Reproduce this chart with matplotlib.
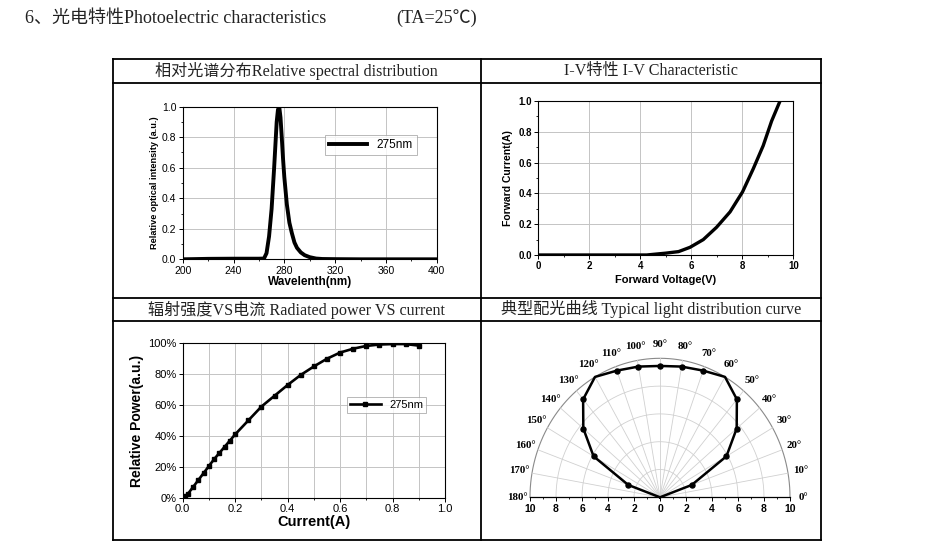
import numpy as np
import matplotlib.pyplot as plt
from matplotlib.lines import Line2D
from matplotlib.ticker import MultipleLocator, FuncFormatter

# relative spectral distribution
wavelength = [200, 220, 240, 260, 264, 266, 268, 270, 272, 274, 275, 276, 277, 278,
              279, 280, 282, 284, 286, 288, 290, 293, 296, 300, 305, 310, 320, 340,
              360, 380, 400]
intensity = [0.0, 0.003, 0.004, 0.004, 0.005, 0.04, 0.15, 0.33, 0.6, 0.9, 0.98, 1.0,
             0.93, 0.8, 0.66, 0.54, 0.36, 0.24, 0.17, 0.11, 0.075, 0.045, 0.027,
             0.014, 0.005, 0.002, 0.001, 0.0, 0.0, 0.0, 0.0]

# I-V characteristic
voltage = [0, 1, 2, 3, 4, 4.25, 5.0, 5.5, 5.95, 6.47, 6.99, 7.52, 8.01, 8.43, 8.82, 9.15, 9.48]
fwd_current = [0, 0, 0, 0, 0, 0.0, 0.012, 0.022, 0.05, 0.1, 0.18, 0.28, 0.41, 0.56, 0.71, 0.87, 1.0]

# radiated power vs current
drive_current = [0.0, 0.01, 0.02, 0.04, 0.06, 0.08, 0.1, 0.12, 0.14, 0.16, 0.18, 0.2,
                 0.25, 0.3, 0.35, 0.4, 0.45, 0.5, 0.55, 0.6, 0.65, 0.7, 0.75, 0.8,
                 0.85, 0.9]
rel_power = [0, 1, 2.5, 7, 11.5, 16, 20.5, 25, 29, 33, 37, 41, 50, 59, 66, 73, 79.5,
             85, 90, 94, 96.5, 98.3, 99.2, 99.5, 99.5, 98.5]

# light distribution (polar)
angle_deg = [0, 20, 30, 40, 50, 60, 70, 80, 90, 100, 110, 120, 130, 140, 150, 160, 180]
radius = [0, 2.6, 5.9, 7.7, 9.2, 10.0, 9.7, 9.55, 9.45, 9.55, 9.7, 10.0, 9.2, 7.7, 5.9, 2.6, 0]
dot_idx = [1, 2, 3, 4, 6, 7, 8, 9, 10, 12, 13, 14, 15]

W, H = 930, 552
serif = ['Liberation Serif', 'Noto Sans CJK SC']
sans = 'Liberation Sans'
grid_c = '#c4c4c4'

fig = plt.figure(figsize=(9.3, 5.52), dpi=100)


def box(x0, y0, x1, y1):
    return [x0 / W, 1 - y1 / H, (x1 - x0) / W, (y1 - y0) / H]


def hline(x0, x1, y):
    fig.add_artist(Line2D([x0 / W, x1 / W], [1 - y / H, 1 - y / H],
                          transform=fig.transFigure, color='black', lw=1.3))


def vline(x, y0, y1):
    fig.add_artist(Line2D([x / W, x / W], [1 - y0 / H, 1 - y1 / H],
                          transform=fig.transFigure, color='black', lw=1.3))


# page title
fig.text(25 / W, 1 - 18 / H, '6、光电特性Photoelectric characteristics', family=serif,
         fontsize=13, va='center', ha='left', color='#222222')
fig.text(396 / W, 1 - 18 / H, '(TA=25℃)', family=serif, fontsize=13, va='center', ha='left',
         color='#222222')

# table frame
L, M, R = 112.7, 480.7, 820.7
T, H1, MID, H2, B = 59, 83, 298, 321, 540
for y in [T, H1, MID, H2, B]:
    hline(L, R, y)
for x in [L, M, R]:
    vline(x, T, B)

headers = ['相对光谱分布Relative spectral distribution', 'I-V特性 I-V Characteristic',
           '辐射强度VS电流 Radiated power VS current', '典型配光曲线 Typical light distribution curve']
centers = [((L + M) / 2, (T + H1) / 2), ((M + R) / 2, (T + H1) / 2),
           ((L + M) / 2, (MID + H2) / 2), ((M + R) / 2, (MID + H2) / 2)]
for txt, (hx, hy) in zip(headers, centers):
    fig.text(hx / W, 1 - hy / H, txt, family=serif, fontsize=11.6, ha='center', va='center',
             color='#222222')


def style(ax, size, bold=False):
    ax.grid(True, color=grid_c, lw=0.7)
    ax.set_axisbelow(True)
    ax.tick_params(which='major', direction='out', length=3, width=0.7, labelsize=size, pad=1.5)
    ax.tick_params(which='minor', direction='out', length=1.6, width=0.6)
    for s in ax.spines.values():
        s.set_linewidth(0.8)
    for lab in ax.get_xticklabels() + ax.get_yticklabels():
        lab.set_family(sans)
        if bold:
            lab.set_weight('bold')


# spectral distribution
ax1 = fig.add_axes(box(182.7, 106.7, 436.7, 259.3))
ax1.plot(wavelength, intensity, color='black', lw=2.8, label='275nm')
ax1.set_xlim(200, 400)
ax1.set_ylim(0, 1.0)
ax1.xaxis.set_major_locator(MultipleLocator(40))
ax1.xaxis.set_minor_locator(MultipleLocator(20))
ax1.yaxis.set_major_locator(MultipleLocator(0.2))
ax1.yaxis.set_minor_locator(MultipleLocator(0.1))
ax1.yaxis.set_major_formatter(FuncFormatter(lambda v, p: f'{v:.1f}'))
style(ax1, 7.5)
ax1.set_xlabel('Wavelenth(nm)', family=sans, weight='bold', fontsize=8.5, labelpad=0.5)
ax1.set_ylabel('Relative optical intensity (a.u.)', family=sans, weight='bold', fontsize=6.6, labelpad=2)
leg = ax1.legend(loc='upper right', bbox_to_anchor=(0.945, 0.855), fancybox=False,
                 handlelength=3.2, borderpad=0.35, prop={'family': sans, 'size': 8.5})
leg.get_frame().set_edgecolor('#999999')
leg.get_frame().set_linewidth(0.6)

# I-V characteristic
ax2 = fig.add_axes(box(538.3, 101, 793.3, 255))
ax2.plot(voltage, fwd_current, color='black', lw=2.4)
ax2.set_xlim(0, 10)
ax2.set_ylim(0, 1.0)
ax2.xaxis.set_major_locator(MultipleLocator(2))
ax2.xaxis.set_minor_locator(MultipleLocator(1))
ax2.yaxis.set_major_locator(MultipleLocator(0.2))
ax2.yaxis.set_minor_locator(MultipleLocator(0.1))
ax2.yaxis.set_major_formatter(FuncFormatter(lambda v, p: f'{v:.1f}'))
style(ax2, 7, bold=True)
ax2.set_xlabel('Forward Voltage(V)', family=sans, weight='bold', fontsize=8, labelpad=3)
ax2.set_ylabel('Forward Current(A)', family=sans, weight='bold', fontsize=7.5, labelpad=4)

# radiated power vs current
ax3 = fig.add_axes(box(182.7, 343.3, 445, 497.7))
ax3.plot(drive_current, rel_power, color='black', lw=1.9, marker='s', ms=2.8, label='275nm')
ax3.set_xlim(0, 1.0)
ax3.set_ylim(0, 100)
ax3.xaxis.set_major_locator(MultipleLocator(0.2))
ax3.xaxis.set_minor_locator(MultipleLocator(0.1))
ax3.yaxis.set_major_locator(MultipleLocator(20))
ax3.xaxis.set_major_formatter(FuncFormatter(lambda v, p: f'{v:.1f}'))
ax3.yaxis.set_major_formatter(FuncFormatter(lambda v, p: f'{v:.0f}%'))
style(ax3, 8)
ax3.grid(True, which='minor', axis='x', color=grid_c, lw=0.7)
ax3.set_xlabel('Current(A)', family=sans, weight='bold', fontsize=10.5, labelpad=1)
ax3.set_ylabel('Relative Power(a.u.)', family=sans, weight='bold', fontsize=10, labelpad=3)
leg = ax3.legend(loc='upper right', bbox_to_anchor=(0.95, 0.685), fancybox=False,
                 handlelength=2.8, borderpad=0.25, prop={'family': sans, 'size': 8})
leg.get_frame().set_edgecolor('#999999')
leg.get_frame().set_linewidth(0.6)

# light distribution curve, drawn as a half polar grid
cx, cy = 660, 497.3
sx, sy = 13.0, 13.9
ax4 = fig.add_axes(box(515, 340, 805, 525))
ax4.set_xlim((515 - cx) / sx, (805 - cx) / sx)
ax4.set_ylim((cy - 525) / sy, (cy - 340) / sy)
for s in ['top', 'left', 'right']:
    ax4.spines[s].set_visible(False)
ax4.spines['bottom'].set_position(('data', 0))
ax4.spines['bottom'].set_bounds(-10, 10)
ax4.spines['bottom'].set_linewidth(0.9)
ax4.set_yticks([])
ax4.set_xticks([v for v in range(-10, 11, 2)])
ax4.set_xticks([v for v in range(-10, 11)], minor=True)
ax4.xaxis.set_major_formatter(FuncFormatter(lambda v, p: f'{abs(v):g}'))
ax4.tick_params(which='major', direction='out', length=3, width=0.7, labelsize=7.5, pad=1.5)
ax4.tick_params(which='minor', direction='out', length=1.6, width=0.6)
for lab in ax4.get_xticklabels():
    lab.set_family(sans)
    lab.set_weight('bold')

th = np.radians(np.linspace(0, 180, 181))
for r in [2, 4, 6, 8]:
    ax4.plot(r * np.cos(th), r * np.sin(th), color='#d0d0d0', lw=0.6, zorder=1)
ax4.plot(10 * np.cos(th), 10 * np.sin(th), color='#8a8a8a', lw=0.8, zorder=1)
for a in range(10, 180, 10):
    t = np.radians(a)
    ax4.plot([0, 10 * np.cos(t)], [0, 10 * np.sin(t)], color='#d0d0d0', lw=0.6, zorder=1)
for a in range(0, 181, 10):
    t = np.radians(a)
    ax4.text(11.0 * np.cos(t), 11.0 * np.sin(t), f'{a}°', family='Liberation Serif',
             weight='bold', fontsize=7.8, ha='center', va='center')

a_rad = np.radians(angle_deg)
px_ = np.array(radius) * np.cos(a_rad)
py_ = np.array(radius) * np.sin(a_rad)
ax4.plot(px_, py_, color='black', lw=1.8, marker='o', ms=3.6, markevery=dot_idx, zorder=3)

fig.savefig('out.png', dpi=100)
